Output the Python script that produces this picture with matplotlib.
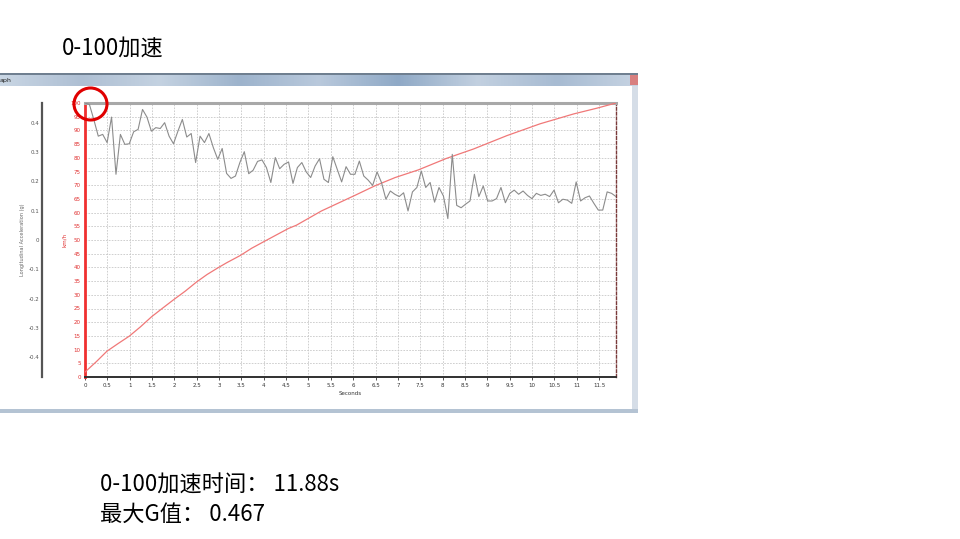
import numpy as np
import matplotlib
matplotlib.use("Agg")
import matplotlib.pyplot as plt
from matplotlib.patches import Rectangle, Ellipse
from matplotlib.colors import LinearSegmentedColormap

plt.rcParams['font.family'] = ['Noto Sans CJK SC', 'DejaVu Sans']

# ---------------- data ----------------
title_text = "0-100加速"
result_time_text = "0-100加速时间： 11.88s"
result_g_text = "最大G值： 0.467"

sample_dt = 0.099  # seconds between logged samples
g_values = [
    0.467, 0.462, 0.410, 0.354, 0.360, 0.332, 0.419, 0.224, 0.360, 0.326,
    0.328, 0.369, 0.377, 0.445, 0.419, 0.371, 0.383, 0.380, 0.400, 0.354,
    0.328, 0.371, 0.411, 0.351, 0.363, 0.264, 0.354, 0.332, 0.363, 0.315,
    0.275, 0.312, 0.227, 0.210, 0.218, 0.264, 0.301, 0.226, 0.238, 0.268,
    0.273, 0.247, 0.196, 0.281, 0.243, 0.258, 0.266, 0.193, 0.247, 0.264,
    0.232, 0.213, 0.252, 0.277, 0.207, 0.196, 0.284, 0.241, 0.198, 0.250,
    0.224, 0.224, 0.269, 0.218, 0.204, 0.186, 0.232, 0.196, 0.139, 0.167,
    0.156, 0.148, 0.161, 0.099, 0.164, 0.179, 0.235, 0.179, 0.196, 0.129,
    0.179, 0.150, 0.073, 0.292, 0.118, 0.110, 0.122, 0.133, 0.224, 0.148,
    0.184, 0.133, 0.133, 0.141, 0.179, 0.127, 0.159, 0.170, 0.156, 0.167,
    0.152, 0.141, 0.159, 0.152, 0.156, 0.148, 0.170, 0.127, 0.139, 0.136,
    0.125, 0.198, 0.133, 0.144, 0.150, 0.125, 0.102, 0.102, 0.164, 0.159,
    0.148,
]

speed_t = [0, 0.26, 0.49, 0.74, 0.99, 1.24, 1.49, 1.75, 1.99, 2.24, 2.49,
           2.73, 2.98, 3.17, 3.48, 3.73, 3.99, 4.55, 4.73, 5.29, 6.04, 6.49,
           6.94, 7.46, 8.09, 8.69, 9.44, 10.18, 10.93, 11.45, 11.88]
speed_kmh = [1.8, 5.7, 9.4, 12.2, 14.9, 18.3, 22.0, 25.3, 28.3, 31.3, 34.6,
             37.4, 39.9, 41.7, 44.4, 47.0, 49.3, 54.2, 55.4, 60.6, 66.3, 69.8,
             72.8, 75.6, 79.8, 83.2, 88.1, 92.4, 96.0, 98.1, 100.0]

x_ticks = [0, 0.5, 1, 1.5, 2, 2.5, 3, 3.5, 4, 4.5, 5, 5.5, 6, 6.5, 7, 7.5,
           8, 8.5, 9, 9.5, 10, 10.5, 11, 11.5]
x_tick_labels = ["0", "0.5", "1", "1.5", "2", "2.5", "3", "3.5", "4", "4.5",
                 "5", "5.5", "6", "6.5", "7", "7.5", "8", "8.5", "9", "9.5",
                 "10", "10.5", "11", "11.5"]
speed_ticks = list(range(0, 101, 5))
g_ticks = [0.4, 0.3, 0.2, 0.1, 0, -0.1, -0.2, -0.3, -0.4]
g_tick_labels = ["0.4", "0.3", "0.2", "0.1", "0", "-0.1", "-0.2", "-0.3", "-0.4"]
t_max = 11.88
g_lim = 0.467

# ---------------- figure ----------------
W, H = 960, 539
fig = plt.figure(figsize=(W / 100, H / 100), dpi=100)
fig.patch.set_facecolor("white")


def fx(x):
    return x / W


def fy(y):
    return 1 - y / H


def rect(x0, y0, x1, y1, **kw):
    fig.add_artist(Rectangle((fx(x0), fy(y1)), fx(x1) - fx(x0), fy(y0) - fy(y1),
                             transform=fig.transFigure, **kw))


# window chrome (screenshot frame)
tb = fig.add_axes([fx(0), fy(86), fx(638), (86 - 74) / H])
grad_cmap = LinearSegmentedColormap.from_list(
    "tb", ["#c9d6e4", "#aebfd3", "#c4d2e1", "#9db3cc", "#b9c9dc",
           "#8fa9c6", "#c2d0e0", "#a7bbd2", "#c6d3e2"])
tb.imshow(np.linspace(0, 1, 256)[None, :], aspect="auto", cmap=grad_cmap)
tb.set_axis_off()
tb.text(0.0, 0.45, "aph", transform=tb.transAxes, fontsize=4.5,
        color="#222222", va="center", ha="left", family="DejaVu Sans")
rect(0, 73, 638, 74.5, facecolor="#6f7f90", edgecolor="none")
rect(630, 75, 638, 85, facecolor="#d88080", edgecolor="none")
rect(632, 86, 638, 413, facecolor="#d5dde7", edgecolor="none")
rect(0, 409.5, 638, 413, facecolor="#b4c3d3", edgecolor="none")

# main plot
ax = fig.add_axes([fx(85), fy(377), fx(616) - fx(85), (377 - 103) / H])
ax.set_xlim(0, t_max)
ax.set_ylim(0, 100)
ax.set_xticks(x_ticks)
ax.set_xticklabels(x_tick_labels)
ax.set_yticks(speed_ticks)
ax.grid(True, color="#c8c8c8", linestyle=(0, (2, 1.5)), linewidth=0.6)
ax.set_axisbelow(True)
ax.tick_params(axis="x", labelsize=4, colors="#333333", length=2, width=0.6,
               pad=2)
ax.tick_params(axis="y", labelsize=4, colors="#e03030", labelcolor="#e03030",
               length=0, pad=3)
for lab in ax.get_xticklabels() + ax.get_yticklabels():
    lab.set_family("DejaVu Sans")
ax.spines["left"].set_color("#f03030")
ax.spines["left"].set_linewidth(2.0)
ax.spines["bottom"].set_color("#303030")
ax.spines["bottom"].set_linewidth(1.4)
ax.spines["top"].set_color("#a8a8a8")
ax.spines["top"].set_linewidth(2.2)
ax.spines["right"].set_color("#7a3a3a")
ax.spines["right"].set_linewidth(1.0)
ax.spines["right"].set_linestyle((0, (2, 1.5)))

ax.set_xlabel("Seconds", fontsize=4, color="#333333", family="DejaVu Sans")
ax.xaxis.set_label_coords(0.5, -0.05)
ax.set_ylabel("km/h", fontsize=4, color="#e03030", family="DejaVu Sans")
ax.yaxis.set_label_coords(-18 / 531, 0.5)

ax.plot(speed_t, speed_kmh, color="#f07878", linewidth=0.9, zorder=3)

# acceleration axis
ax2 = ax.twinx()
ax2.set_ylim(-g_lim, g_lim)
ax2.yaxis.set_ticks_position("left")
ax2.yaxis.set_label_position("left")
ax2.spines["left"].set_position(("axes", -43 / 531))
ax2.spines["left"].set_color("#555555")
ax2.spines["left"].set_linewidth(1.6)
for s in ("right", "top", "bottom"):
    ax2.spines[s].set_visible(False)
ax2.set_yticks(g_ticks)
ax2.set_yticklabels(g_tick_labels)
ax2.tick_params(axis="y", labelsize=4, colors="#555555", length=0, pad=2)
for lab in ax2.get_yticklabels():
    lab.set_family("DejaVu Sans")
ax2.set_ylabel("Longitudinal Acceleration (g)", fontsize=3.6, color="#666666",
               family="DejaVu Sans")
ax2.yaxis.set_label_coords(-60 / 531, 0.5)

g_t = np.arange(len(g_values)) * sample_dt
ax2.plot(g_t, g_values, color="#8c8c8c", linewidth=0.8, zorder=3)

# red highlight circle
fig.add_artist(Ellipse((fx(90.5), fy(104)), 33 / W, 32 / H,
                       transform=fig.transFigure, fill=False,
                       edgecolor="#e00000", linewidth=2.2))

# slide texts
fig.text(fx(62), fy(48), title_text, fontsize=16, color="black",
         ha="left", va="center")
fig.text(fx(100), fy(485), result_time_text, fontsize=16, color="black",
         ha="left", va="center")
fig.text(fx(100), fy(514), result_g_text, fontsize=16, color="black",
         ha="left", va="center")

fig.savefig("out.png", dpi=100, facecolor="white")
